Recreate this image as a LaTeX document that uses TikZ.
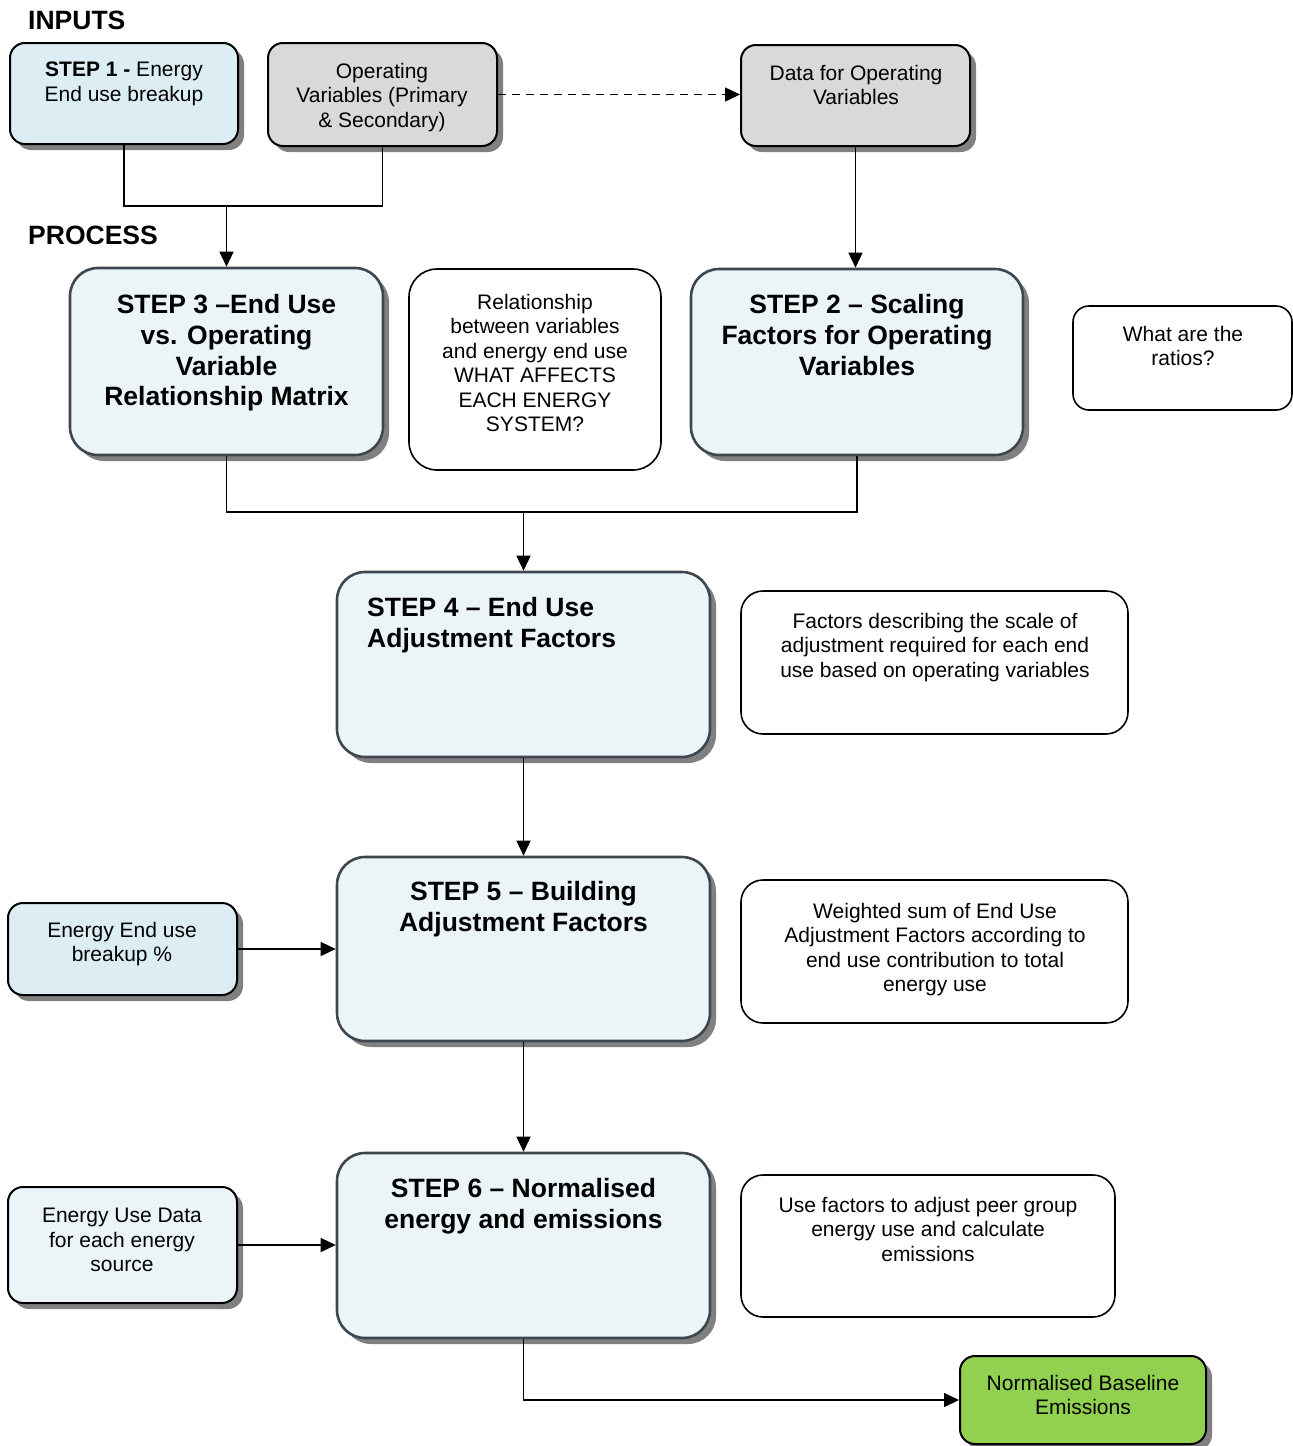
\documentclass[tikz,border=0pt]{standalone}
\usepackage{fontspec}
\setmainfont{Liberation Sans}
\usetikzlibrary{arrows.meta,shadows,calc}
\definecolor{inblue}{HTML}{DCEEF4}
\definecolor{procblue}{HTML}{EBF5F8}
\definecolor{inblue2}{HTML}{EBF4F7}
\definecolor{grayfill}{HTML}{D9D9D9}
\definecolor{greenfill}{HTML}{92D050}
\definecolor{procedge}{HTML}{3E4650}
\definecolor{shadowgray}{HTML}{808080}
\tikzset{
  shad/.style={drop shadow={shadow xshift=6pt,shadow yshift=-6pt,fill=shadowgray,opacity=1}},
  inbox/.style={draw=black,line width=2pt,rounded corners=15pt,shad},
  procbox/.style={draw=procedge,line width=2.6pt,rounded corners=28pt,fill=procblue,shad},
  notebox/.style={draw=black,line width=1.6pt,rounded corners=22pt,fill=white},
  reg/.style={font=\fontsize{21}{24.5}\selectfont,align=center,anchor=north,inner sep=0pt},
  bld/.style={font=\bfseries\fontsize{26.5}{30.8}\selectfont,align=center,anchor=north,inner sep=0pt},
  conn/.style={line width=1.5pt},
  arr/.style={line width=1.5pt,-{Triangle[length=15pt,width=14pt]}},
}
\begin{document}
\begin{tikzpicture}[x=1pt,y=-1pt]
\useasboundingbox (0,0) rectangle (1293,1446);
% labels
\node[font=\bfseries\fontsize{26.5}{30}\selectfont,anchor=west,inner sep=0pt] (inputs) at (28,20) {INPUTS};
\node[font=\bfseries\fontsize{26.5}{30}\selectfont,anchor=west,inner sep=0pt] (process) at (28,235) {PROCESS};
% input boxes
\node[inbox,fill=inblue,minimum width=228pt,minimum height=101pt] (step1) at (124,93.5) {};
\node[reg] (step1t) at (124,62) {\textbf{STEP 1 -} Energy\\End use breakup};
\node[inbox,fill=grayfill,minimum width=229pt,minimum height=103pt] (opvars) at (382.5,94.5) {};
\node[reg] (opvarst) at (382,63) {Operating\\Variables (Primary\\\& Secondary)};
\node[inbox,fill=grayfill,minimum width=229pt,minimum height=101pt] (data) at (855.5,95.5) {};
\node[reg] (datat) at (856,65) {Data for Operating\\Variables};
% row 2
\node[procbox,minimum width=313pt,minimum height=187pt] (step3) at (226.5,361.5) {};
\node[bld] (step3t) at (226.5,294) {STEP 3 –End Use\\vs. Operating\\Variable\\Relationship Matrix};
\node[notebox,rounded corners=28pt,minimum width=252pt,minimum height=201pt] (rel) at (535,369.5) {};
\node[reg] (relt) at (535,294) {Relationship\\between variables\\and energy end use\\WHAT AFFECTS\\EACH ENERGY\\SYSTEM?};
\node[procbox,minimum width=332pt,minimum height=186pt] (step2) at (857,362) {};
\node[bld] (step2t) at (857,294) {STEP 2 – Scaling\\Factors for Operating\\Variables};
\node[notebox,rounded corners=16pt,minimum width=219pt,minimum height=104pt] (ratios) at (1182.5,358) {};
\node[reg] (ratiost) at (1183,326) {What are the\\ratios?};
% step 4
\node[procbox,minimum width=373pt,minimum height=185pt] (step4) at (523.5,664.5) {};
\node[bld,anchor=north west,align=left] (step4t) at (367,597) {STEP 4 – End Use\\Adjustment Factors};
\node[notebox,minimum width=387pt,minimum height=143pt] (fac) at (934.5,662.5) {};
\node[reg] (fact) at (935,613) {Factors describing the scale of\\adjustment required for each end\\use based on operating variables};
% step 5
\node[procbox,minimum width=373pt,minimum height=184pt] (step5) at (523.5,949) {};
\node[bld] (step5t) at (523.5,881) {STEP 5 – Building\\Adjustment Factors};
\node[inbox,fill=inblue,minimum width=229pt,minimum height=92pt] (eeu) at (122.5,949) {};
\node[reg] (eeut) at (122,922) {Energy End use\\breakup \%};
\node[notebox,minimum width=387pt,minimum height=143pt] (wsum) at (934.5,951.5) {};
\node[reg] (wsumt) at (935,903) {Weighted sum of End Use\\Adjustment Factors according to\\end use contribution to total\\energy use};
% step 6
\node[procbox,minimum width=373pt,minimum height=185pt] (step6) at (523.5,1245.5) {};
\node[bld] (step6t) at (523.5,1178) {STEP 6 – Normalised\\energy and emissions};
\node[inbox,fill=inblue2,minimum width=229pt,minimum height=116pt] (eud) at (122.5,1245) {};
\node[reg] (eudt) at (122,1208) {Energy Use Data\\for each energy\\source};
\node[notebox,minimum width=374pt,minimum height=142pt] (use) at (928,1246) {};
\node[reg] (uset) at (928,1197) {Use factors to adjust peer group\\energy use and calculate\\emissions};
\node[inbox,fill=greenfill,minimum width=246pt,minimum height=88pt] (norm) at (1083,1400) {};
\node[reg] (normt) at (1083,1375) {Normalised Baseline\\Emissions};
% connectors
\coordinate (j1) at (step3.north |- 0,206);
\draw[conn] (step1.south) |- (j1) -| (opvars.south);
\draw[arr] (j1) -- (step3.north);
\draw[arr,dash pattern=on 8pt off 6pt] (opvars.east) -- (opvars.east -| data.west);
\draw[arr] (data.south) -- (data.south |- step2.north);
\coordinate (j2) at (step4.north |- 0,512);
\draw[conn] (step3.south) |- (j2) -| (step2.south);
\draw[arr] (j2) -- (step4.north);
\draw[arr] (step4.south) -- (step5.north);
\draw[arr] (eeu.east) -- (step5.west |- eeu.east);
\draw[arr] (step5.south) -- (step6.north);
\draw[arr] (eud.east) -- (step6.west |- eud.east);
\draw[arr] (step6.south) |- (norm.west);
\end{tikzpicture}
\end{document}
